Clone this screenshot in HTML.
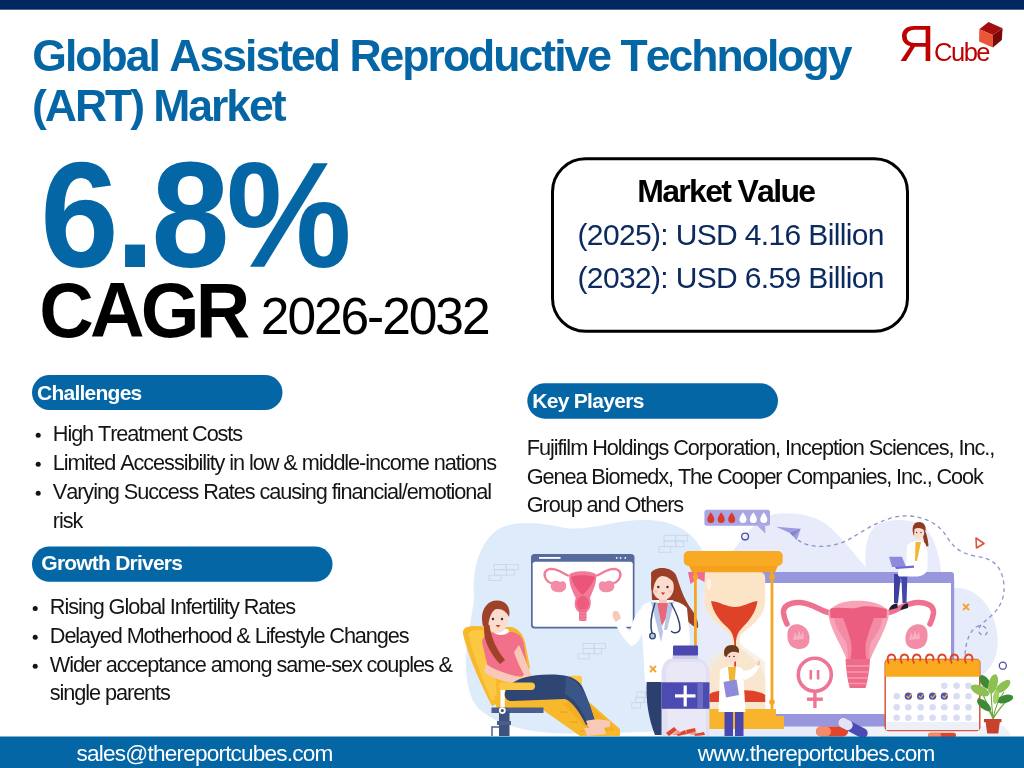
<!DOCTYPE html>
<html><head><meta charset="utf-8"><title>Global Assisted Reproductive Technology (ART) Market</title>
<style>html,body{margin:0;padding:0;background:#fff;} body{width:1024px;height:768px;overflow:hidden;} svg{display:block;}</style>
</head><body>
<svg width="1024" height="768" viewBox="0 0 1024 768">
<rect width="1024" height="768" fill="#fff"/>
<g id="illus"><!-- background blobs -->
<path d="M474,600 C472,570 478,545 497,530 C512,520 540,522 565,528 C590,531 612,521 640,520 C668,519 692,528 703,552 L714,610 L714,729 C680,731 620,733 565,733.5 C525,733 495,724 478,708 C463,692 464,650 470,625 Z" fill="#DDEBFA"/>
<path d="M700,600 C705,575 718,560 732,552 C745,535 757,518 775,514 C792,512 812,514 826,524 C842,537 855,555 870,572 L870,736 L700,736 Z" fill="#E8ECFA"/>
<path d="M866,572 C864,550 866,530 880,523 C895,518 915,519 926,528 C934,538 940,556 941,572 Z" fill="#E8ECFA"/>
<path d="M951,588 C975,585 994,605 997.5,636 C999,652 994,664 986,672 C976,682 962,690 951,692 Z" fill="#E6ECFA"/>
<path d="M860,726 L1003,726 C1008,729 1010,733 1010,736 L860,736 Z" fill="#EEF0FA"/>
<!-- brick marks -->
<g stroke="#C8D5EA" stroke-width="0.8" fill="none">
<rect x="494.0" y="564.5" width="12.2" height="5.3"/><rect x="506.1" y="564.5" width="12.2" height="5.3"/><rect x="494.4" y="569.8" width="12.2" height="5.3"/><rect x="506.5" y="569.8" width="8.1" height="5.3"/><rect x="489.0" y="575.2" width="12.2" height="5.3"/>
<rect x="664.0" y="535.3" width="11.7" height="5.7"/><rect x="675.7" y="535.3" width="11.7" height="5.7"/><rect x="664.2" y="541.0" width="11.7" height="5.7"/><rect x="675.9" y="541.0" width="7.8" height="5.7"/><rect x="659.0" y="546.6" width="11.7" height="5.7"/>
<rect x="583.0" y="643.4" width="11.2" height="5.2"/><rect x="594.2" y="643.4" width="11.2" height="5.2"/><rect x="583.0" y="648.6" width="11.2" height="5.2"/><rect x="594.2" y="648.6" width="7.5" height="5.2"/><rect x="578.0" y="653.7" width="11.2" height="5.2"/>
<rect x="636.8" y="692.0" width="8.6" height="5.3"/><rect x="645.3" y="692.0" width="8.6" height="5.3"/><rect x="635.6" y="697.3" width="8.6" height="5.3"/><rect x="644.1" y="697.3" width="5.7" height="5.3"/><rect x="631.8" y="702.7" width="8.6" height="5.3"/>
</g>
<!-- dashed path -->
<path d="M798,540 C808,548 830,549 848,540 C862,532 875,522 895,517 C915,513 935,520 945,534 C952,545 958,553 975,556 C992,558 1002,565 1004,585 C1005,605 994,614 984,622 C976,628 978,636 985,635 C990,633 986,624 978,626 C970,630 966,640 965,655" fill="none" stroke="#8E92CF" stroke-width="1.3" stroke-dasharray="4,3.5"/>
<!-- small monitor -->
<rect x="531" y="554" width="103.5" height="74.5" rx="3.5" fill="#566A9E"/>
<rect x="532.7" y="561.8" width="100.1" height="65" rx="2.5" fill="#fff"/>
<rect x="539" y="557" width="21.5" height="1.8" fill="#fff"/>
<circle cx="616.7" cy="557.9" r="0.9" fill="#fff"/><circle cx="620.6" cy="557.9" r="0.9" fill="#fff"/><circle cx="625.3" cy="557.9" r="0.9" fill="#fff"/>
<!-- small uterus -->
<g>
<path d="M568,575.5 C562,573 558,568.8 551,568.8 C546,569 543.5,573 545,577 C546,580 548,582 551,583" fill="none" stroke="#F07C95" stroke-width="2.3" stroke-linecap="round"/>
<path d="M597,575.5 C603,573 607,568.8 614,568.8 C619,569 621.5,573 620,577 C619,580 617,582 614,583" fill="none" stroke="#F07C95" stroke-width="2.3" stroke-linecap="round"/>
<path d="M551,584 C552,580 557,580 560,582 C564,580 567,583 566,587 C566,591 561,593 557,592 C552,592 550,588 551,584 Z" fill="#F38CA6"/>
<path d="M614,584 C613,580 608,580 605,582 C601,580 598,583 599,587 C599,591 604,593 608,592 C613,592 615,588 614,584 Z" fill="#F38CA6"/>
<path d="M569.3,575 C572,570 593,570 596.2,575 C597,584 592,592 590,598 C592,604 590,610 586.5,612 L579,612 C575,610 573.5,604 575.8,598 C573,592 568.5,584 569.3,575 Z" fill="#F27A97"/>
<path d="M571,577 C575,574.5 590,574.5 595,577 C592,585 587,591 582.5,595 C578,591 573,585 571,577 Z" fill="#EA5679"/>
<ellipse cx="582.8" cy="603.5" rx="6.2" ry="7.5" fill="#EE5B7F"/>
<rect x="579" y="609" width="7.5" height="12" rx="1.5" fill="#EE6D8B"/>
<path d="M579.5,613 h6.5 M579.5,616 h6.5 M579.5,619 h6.5" stroke="#F59AB0" stroke-width="0.8"/>
</g>
<!-- big monitor -->
<rect x="752" y="572" width="202" height="11.2" rx="3" fill="#9896DC"/>
<rect x="951" y="580" width="3.2" height="138" fill="#9896DC"/>
<rect x="740" y="583" width="211" height="131" fill="#fff"/>
<rect x="760" y="714" width="194" height="12.5" rx="2" fill="#9896DC"/>
<!-- big uterus -->
<g>
<path d="M831,613 C822,612 812,603 800,602.5 C790,602 783,606 783.5,613 C784,618 785.5,621 787,624" fill="none" stroke="#EF7190" stroke-width="5.5" stroke-linecap="round"/>
<path d="M886,613 C895,612 905,603 917,602.5 C927,602 934,606 933.5,613 C933,618 931.5,621 930,624" fill="none" stroke="#EF7190" stroke-width="5.5" stroke-linecap="round"/>
<path d="M787.5,633 C788,625 796,622 803,626 C810,630 811,640 808,645 C804,651 793,650 789.5,644 C787.5,641 787.3,637 787.5,633 Z" fill="#F38CA6"/>
<path d="M927.5,633 C927,625 919,622 912,626 C905,630 904,640 907,645 C911,651 922,650 925.5,644 C927.5,641 927.7,637 927.5,633 Z" fill="#F38CA6"/>
<path d="M793,640 l2,-8 l2,5 l2,-7 l2,6 l2,-5 l1,8 Z M909,640 l2,-8 l2,5 l2,-7 l2,6 l2,-5 l1,8 Z" fill="#F7B3C4" opacity="0.9"/>
<path d="M828,612 C836,602 848,600.8 858,600.8 C870,600.8 882,603 889.5,612 C888,622 884,630 881,637 C877,645 873,652 870.5,659 L846.4,659 C844,652 840,645 836,637 C833,630 829,622 828,612 Z" fill="#F7A4B8"/>
<path d="M834,614 C834,625 840,634 846,642 C848,648 848,654 847.5,659 L869.5,659 C869,654 869,648 871,642 C877,634 883,625 883,614 Z" fill="#F38BA5"/>
<path d="M830,609 C840,606 848,610 858,607.5 C868,605 876,607 887,609 L886.5,618 L874,618 C871,626 868,634 866,642 C865,648 865.5,654 866.5,659 L850.5,659 C851.5,654 852,648 851,642 C849,634 846,626 843,618 L830.5,618 Z" fill="#EC5E80"/>
<path d="M845.5,659 L870,659 C869.5,670 868,680 865.5,688 L849.7,688 C847.5,680 846,670 845.5,659 Z" fill="#EE6C8A"/>
<path d="M846.5,666 h23 M847.3,672 h21.5 M848,678 h20 M849,683.5 h17.5" stroke="#F59AB0" stroke-width="1.6"/>
</g>
<!-- female symbol -->
<circle cx="814.8" cy="674.7" r="16.5" fill="#fff" stroke="#EE7596" stroke-width="3.6"/>
<rect x="809.5" y="670" width="2.6" height="9.5" fill="#EE7596"/><rect x="816.8" y="670" width="2.6" height="9.5" fill="#EE7596"/>
<rect x="813.2" y="692" width="3.4" height="16" fill="#EE7596"/><rect x="807" y="697.5" width="15.8" height="3.4" fill="#EE7596"/>
<!-- calendar -->
<g>
<rect x="885.2" y="659.6" width="94.6" height="71" rx="3.5" fill="#fff" stroke="#D9553D" stroke-width="1.5"/>
<path d="M885.2,676.7 L885.2,663 Q885.2,659.6 888.7,659.6 L976.3,659.6 Q979.8,659.6 979.8,663 L979.8,676.7 Z" fill="#FBA91F"/>
<rect x="886" y="722" width="93" height="8" fill="#EEF0F8"/>
<g fill="none" stroke="#D9462B" stroke-width="1.8">
<path d="M889,663.5 C886,659 888,654.5 891.6,654.5 C895,654.5 896,658 894.5,661"/>
<path d="M902,663.5 C899,659 901,654.5 904.6,654.5 C908,654.5 909,658 907.5,661"/>
<path d="M914.3,663.5 C911.3,659 913.3,654.5 916.9,654.5 C920.3,654.5 921.3,658 919.8,661"/>
<path d="M927.3,663.5 C924.3,659 926.3,654.5 929.9,654.5 C933.3,654.5 934.3,658 932.8,661"/>
<path d="M939.6,663.5 C936.6,659 938.6,654.5 942.2,654.5 C945.6,654.5 946.6,658 945.1,661"/>
<path d="M951.9,663.5 C948.9,659 950.9,654.5 954.5,654.5 C957.9,654.5 958.9,658 957.4,661"/>
<path d="M966.3,663.5 C963.3,659 965.3,654.5 968.9,654.5 C972.3,654.5 973.3,658 971.8,661"/>
</g>
<g fill="#D8DDF3">
<circle cx="944.3" cy="685.8" r="3.3"/><circle cx="956.6" cy="685.8" r="3.3"/><circle cx="968.5" cy="685.8" r="3.3"/>
<circle cx="896.7" cy="696.2" r="3.3"/><circle cx="956.6" cy="696.2" r="3.3"/><circle cx="968.5" cy="696.2" r="3.3"/>
<circle cx="896.7" cy="707.2" r="3.3"/><circle cx="908.3" cy="707.2" r="3.3"/><circle cx="920.6" cy="707.2" r="3.3"/><circle cx="932.6" cy="707.2" r="3.3"/><circle cx="944.3" cy="707.2" r="3.3"/><circle cx="956.6" cy="707.2" r="3.3"/><circle cx="968.5" cy="707.2" r="3.3"/>
<circle cx="896.7" cy="717.7" r="3.3"/><circle cx="908.3" cy="717.7" r="3.3"/><circle cx="920.6" cy="717.7" r="3.3"/><circle cx="932.6" cy="717.7" r="3.3"/><circle cx="944.3" cy="717.7" r="3.3"/><circle cx="956.6" cy="717.7" r="3.3"/><circle cx="968.5" cy="717.7" r="3.3"/>
</g>
<g fill="#4D55B5">
<circle cx="908.3" cy="696.2" r="3.6"/><circle cx="920.6" cy="696.2" r="3.6"/><circle cx="932.6" cy="696.2" r="3.6"/><circle cx="944.3" cy="696.2" r="3.6"/>
</g>
<g fill="none" stroke="#F5B33A" stroke-width="1.2">
<path d="M906.5,696 l1.8,1.8 l3.5,-4.5 M918.8,696 l1.8,1.8 l3.5,-4.5 M930.8,696 l1.8,1.8 l3.5,-4.5 M942.5,696 l1.8,1.8 l3.5,-4.5"/>
</g>
</g>
<!-- plant -->
<g>
<path d="M993,719 C992,708 991,698 991,686 M993,719 C995,708 998,700 1004,692 M993,719 C990,710 985,704 978,698 M993,719 C992,712 987,705 982,692 M993,719 C997,712 1002,705 1008,700" fill="none" stroke="#6FA83E" stroke-width="1.1"/>
<ellipse cx="985" cy="682" rx="8" ry="4.2" transform="rotate(55 985 682)" fill="#3D8B37"/>
<ellipse cx="980" cy="690.5" rx="10" ry="4.8" transform="rotate(25 980 690.5)" fill="#8CC152"/>
<ellipse cx="993" cy="684" rx="10" ry="4.5" transform="rotate(-75 993 684)" fill="#8CC152"/>
<ellipse cx="1003" cy="686.5" rx="9" ry="4.2" transform="rotate(-40 1003 686.5)" fill="#8CC152"/>
<ellipse cx="1005" cy="699" rx="8.5" ry="4" transform="rotate(-15 1005 699)" fill="#3D8B37"/>
<ellipse cx="984" cy="705" rx="8.5" ry="4" transform="rotate(40 984 705)" fill="#3D8B37"/>
<ellipse cx="996" cy="697" rx="7" ry="3" transform="rotate(-80 996 697)" fill="#A5D064"/>
<path d="M983.9,719 L1001.5,719 L1001.5,722.3 L999.8,722.3 L998.3,733.4 L987.2,733.4 L985.6,722.3 L983.9,722.3 Z" fill="#C8412C"/>
</g>
<!-- speech bubble -->
<g>
<rect x="704.4" y="509.8" width="65.6" height="15.9" rx="2.5" fill="#A9A6E4"/>
<path d="M757,525.5 L765.2,525.5 L765.4,533.5 Z" fill="#A9A6E4"/>
<g fill="#D93A2B">
<path d="M710.8,512.3 C708,516 707.3,518 707.3,519.5 A3.5,3.5 0 0 0 714.3,519.5 C714.3,518 713.6,516 710.8,512.3 Z"/>
<path d="M721.2,512.3 C718.4,516 717.7,518 717.7,519.5 A3.5,3.5 0 0 0 724.7,519.5 C724.7,518 724,516 721.2,512.3 Z"/>
<path d="M731.7,512.3 C728.9,516 728.2,518 728.2,519.5 A3.5,3.5 0 0 0 735.2,519.5 C735.2,518 734.5,516 731.7,512.3 Z"/>
</g>
<g fill="#fff">
<path d="M743,512.3 C740.2,516 739.5,518 739.5,519.5 A3.5,3.5 0 0 0 746.5,519.5 C746.5,518 745.8,516 743,512.3 Z"/>
<path d="M753.3,512.3 C750.5,516 749.8,518 749.8,519.5 A3.5,3.5 0 0 0 756.8,519.5 C756.8,518 756.1,516 753.3,512.3 Z"/>
<path d="M763.8,512.3 C761,516 760.3,518 760.3,519.5 A3.5,3.5 0 0 0 767.3,519.5 C767.3,518 766.6,516 763.8,512.3 Z"/>
</g>
</g>
<circle cx="745.1" cy="536.6" r="3.4" fill="none" stroke="#4B4DA8" stroke-width="1.3"/>
<circle cx="1002.8" cy="665.7" r="3.5" fill="none" stroke="#4B4DA8" stroke-width="1.3"/>
<!-- paper plane -->
<path d="M776.1,526.7 L800.7,528.7 L796.6,540.3 L790,533 Z" fill="#9E9BE0"/>
<path d="M790,533 L800.7,528.7 L793,536 Z" fill="#8481CF"/>
<!-- red triangle -->
<path d="M976,538 L984,543.5 L976.5,548 Z" fill="none" stroke="#E2523D" stroke-width="1.6" stroke-linejoin="round"/>
<!-- chair -->
<g>
<path d="M463.5,636 C461,629 466,626 474,626 L511,627 C518,628 523,634 525,642 L530,668 L504,700 L492,706 C484,690 470,662 463.5,636 Z" fill="#F7B92B"/>
<path d="M469,637 C467,632 471,630 478,630 L490,631 C494,645 495,670 497,700 L491,700 C484,682 474,658 469,637 Z" fill="#FBC844"/>
<path d="M494,696 L555,697 L560,700 L562,709 L497,710 Z" fill="#F7B92B"/>
<path d="M556,699 L582,696 L620,729 L620,736 L580,736 L543,710 Z" fill="#F7B92B"/>
<path d="M562,703 L586,700 L615,730 L592,734 Z" fill="#F3AE22"/>
<path d="M560,712 l8,0 M570,722 l8,0 M580,731 l8,0" stroke="#E89F1A" stroke-width="1"/>
<rect x="491.5" y="707.5" width="52" height="5.5" fill="#4A5E8C"/>
<rect x="499" y="711" width="10.5" height="25" fill="#3F527E"/>
<rect x="497" y="721" width="14" height="4" fill="#4A5E8C"/>
<path d="M499,727 L492,727 L492,736" fill="none" stroke="#4A5E8C" stroke-width="1.5"/>
<circle cx="502.3" cy="710.6" r="3.4" fill="#fff"/><circle cx="502.3" cy="710.6" r="1.6" fill="#3F527E"/>
<rect x="500.5" y="689" width="4.3" height="18" fill="#fff"/>
</g>
<!-- patient -->
<g>
<path d="M482,642 C483,635 489,632 497,632 L512,632 C519,633 523,638 524,645 L528,672 L522,676 L496,677 L488,668 Z" fill="#F2708A"/>
<path d="M493,632 C497,636 505,636 509,632 L508,629 L494,629 Z" fill="#fff"/>
<path d="M519,645 C524,655 528,668 532,676 L536,682 L530,684 C524,676 518,664 514,652 Z" fill="#F9C9B7"/>
<path d="M486,664 C496,671 514,677 532,679 L535,685 C515,686 495,680 484,672 Z" fill="#F9C9B7"/>
<rect x="568" y="675.7" width="14" height="9.2" rx="3" fill="#FBC844"/>
<path d="M506,690 C512,678 535,673 560,675 C572,676 578,680 582,686 C586,694 591,708 595,721 L586,725 C580,713 572,701 565,699 L512,701 C505,701 503,695 506,690 Z" fill="#2F4675"/>
<path d="M566,676 C576,680 582,688 587,698 C591,708 593,716 595,721 L588,724 C583,712 576,700 565,694 Z" fill="#3A5688"/>
<path d="M586,721 C592,719 602,719 610,721 L610,727 L590,730 Z M584,728 L604,727 L606,734 L587,736 Z" fill="#F9C9B7"/>
<rect x="499" y="682.4" width="36" height="7.5" rx="3.7" fill="#FBC844"/>
<path d="M486,620 C486,609 490,603.5 497.5,603.5 C505,603.5 508.5,610 508,619 C507.5,628 503,633 497,633 C490.5,633 486,628 486,620 Z" fill="#FCDCCF"/>
<path d="M483,626 C479,611 487,600 497.5,600.5 C506,601 511,607 509,617 C506,611 501,608 495,609.5 C491,612 489,619 488,627 Z" fill="#A0412A"/>
<path d="M484.5,623 C482,638 489,652 500,664 L505,660 C497,650 491,638 489.5,625 Z" fill="#A0412A"/>
<circle cx="493" cy="619" r="1.2" fill="#333"/><circle cx="502" cy="619" r="1.2" fill="#333"/>
<path d="M495.5,625 h5 l-2.5,2.5 Z" fill="#C0392B"/>
</g>
<!-- female doctor -->
<g>
<path d="M647,679 C645,700 649,720 655,735 L664,735 L664,679 Z" fill="#2C4070"/>
<path d="M651,573 C655,566 671,566 676,575 C680,586 684,600 692,610 C696,616 699,622 698,628 C692,627 686,620 681,612 L673,600 L652,600 Z" fill="#9C3F26"/>
<path d="M642,606 C648,601 656,600 663,600 C672,600 682,602 687,608 L690,640 L684,680 L666,682 L645,682 C644,660 642,635 641,615 Z" fill="#fff"/>
<path d="M643,607 C636,612 632,622 630,632 C627,628 622,622 619,618 L614,621 C618,630 624,640 631,646 C637,646 642,636 645,625 Z" fill="#fff"/>
<path d="M612.5,614 C613,610 617,610 619,613 L621,618 L616,622 C614,620 612.5,617 612.5,614 Z" fill="#F9C9B7"/>
<path d="M659,598 L667,598 L667,605 L659,605 Z" fill="#F9C9B7"/>
<path d="M656,603 L669,603 L666,618 L662,626 L659,618 Z" fill="#E8677C"/>
<path d="M651,602 L657,602 L663,632 L661,642 Z M674,602 L668,602 L664,630 L667,630 Z" fill="#B9C7E7"/>
<path d="M655,603 C651,615 650,626 652,634 M671,603 C676,612 680,620 680,628 C680,633 674,634 671,631" fill="none" stroke="#2E4472" stroke-width="1.5"/>
<circle cx="652.5" cy="636" r="2.8" fill="#B9C7E7" stroke="#2E4472" stroke-width="1.3"/>
<ellipse cx="663" cy="587" rx="10.8" ry="13" fill="#FCDCCF"/>
<path d="M651.5,590 C649,575 657,569 664,569 C672,569 677,575 675.5,586 C672,579 667,576 662,576 C657,577 654,582 653,592 Z" fill="#9C3F26"/>
<circle cx="658.3" cy="587" r="1.2" fill="#3a2a2a"/><circle cx="667.5" cy="587" r="1.2" fill="#3a2a2a"/>
<path d="M660.8,592.5 h4.4 l-2.2,2.5 Z" fill="#C0392B"/>
<ellipse cx="656" cy="591.5" rx="2" ry="1.2" fill="#F7B8AE" opacity="0.7"/><ellipse cx="670" cy="591.5" rx="2" ry="1.2" fill="#F7B8AE" opacity="0.7"/>
</g>
<!-- orange x marks -->
<path d="M963,604 l6,6 M969,604 l-6,6" stroke="#F3A531" stroke-width="1.8"/>
<path d="M650,666 l6,6 M656,666 l-6,6" stroke="#F3A531" stroke-width="1.8"/>
<!-- hourglass -->
<g>
<path d="M710,571.8 L759,571.8 C763,571.8 765.2,574 765.2,579 L765.2,600 C765.2,612 758,620 750,627 C742,633 738,637 737.8,641 C738,645 742,650 750,656 C759,663 765,670 765.2,682 L765.2,709.5 L708.5,709.5 L708.5,682 C709,670 714,663 722,656 C729,650 732,645 732.2,641 C732,637 729,633 721,627 C712,620 704.6,612 704.6,600 L704.6,579 C704.6,574 706,571.8 710,571.8 Z" fill="#FCE4C6"/>
<path d="M708.5,660 C712,656 722,650 728,645 L732,641 L738,641 L742,645 C748,650 758,656 765.2,662 L765.2,709.5 L708.5,709.5 Z" fill="#F7E7D5" opacity="0.6"/>
<path d="M711,601 C720,602 727,607 735,607 C743,607 750,602 757.5,601 C756,613 748,622 742,628 C738,632 736.5,636 736,641 L734,641 C733.5,636 732,632 728,628 C721,622 713,613 711,601 Z" fill="#DE4229"/>
<rect x="734.2" y="640" width="1.8" height="52" fill="#DE4229"/>
<path d="M708.5,702 L708.5,695 C712,691 722,690 736,690 C750,690 760,691 765.2,695 L765.2,702 Z" fill="#DE4229"/>
<path d="M688,572 L705,572 L704.5,582 L698,578.5 L690.5,584 Z" fill="#F06A93"/>
<ellipse cx="709" cy="584" rx="2.3" ry="6" fill="#FFF3E6" opacity="0.9"/>
<rect x="694" y="571" width="2.8" height="140" fill="#F5A623"/>
<rect x="770.6" y="571" width="2.8" height="140" fill="#F5A623"/>
<circle cx="695.4" cy="577" r="2.8" fill="#F5A623"/><circle cx="772" cy="577" r="2.8" fill="#F5A623"/>
<circle cx="695.4" cy="702" r="2.8" fill="#F5A623"/><circle cx="772" cy="702" r="2.8" fill="#F5A623"/>
<path d="M688,564 L779,564 L775,572.2 L692,572.2 Z" fill="#F6A11E"/>
<rect x="683.7" y="551" width="99" height="15" rx="5" fill="#F9AA24"/>
<path d="M700,709 L776,709 L776,716 L784,716 L784,729 L690,729 L690,716 L700,716 Z" fill="#F7B42C"/>
</g>
<!-- bottle -->
<g>
<path d="M669,659 L701,659 C706,662 709.5,667 709.5,674 L709.5,736 L661.5,736 L661.5,674 C661.5,667 664,662 669,659 Z" fill="#E1DFF2"/>
<path d="M666,672 C666,665 670,662 675,662 L698,662 C703,662 706,666 706,672 L706,736 L668,736 Z" fill="#EAE8F7"/>
<rect x="672.5" y="655" width="25.5" height="4" fill="#CFCCEA"/>
<rect x="673" y="645.5" width="25" height="10" rx="1" fill="#4A47AE"/>
<rect x="661.5" y="682.3" width="48" height="26.5" fill="#4C4BB2"/>
<rect x="697.4" y="682.3" width="5.6" height="26.5" fill="#6E6DC4"/>
<rect x="683.6" y="685.5" width="3.2" height="21" fill="#fff"/>
<rect x="675" y="694.3" width="20.5" height="3.2" fill="#fff"/>
<path d="M666,733 l8,-6 l3,3 l-8,6 Z M676,734 l9,-4 l2,4 l-9,2 Z M686,730 l9,-2 l1,4 l-9,2 Z M694,734 l10,-2 l1,3 l-10,1 Z" fill="#E0452E"/>
<path d="M672,735 l6,-5 l3,3 l-6,2 Z M690,733 l6,-2 l1,3 l-6,1 Z" fill="#F59584"/>
</g>
<!-- male doctor -->
<g>
<rect x="724.5" y="710" width="8.5" height="26" fill="#4A47B0"/><rect x="735" y="710" width="8.5" height="26" fill="#4A47B0"/>
<path d="M720,670 C723,666 739,665 743,669 L745.5,712 L718.5,712 Z" fill="#fff"/>
<path d="M741,670 C746,672 752,670 757,664 L760,666 C756,674 750,679 744,680 Z" fill="#fff"/>
<path d="M757,666 C757,662 758,660 759.5,660 L760.5,665 Z" fill="#F9C9B7"/>
<path d="M728,667 L736,667 L734,688 L730,688 Z" fill="#F2B635"/>
<path d="M723.5,682 L736.5,679.5 L739,695 L726,697.5 Z" fill="#8E8BDB"/>
<circle cx="731.6" cy="656" r="6.8" fill="#FCDCCF"/>
<path d="M724.5,656 C722.5,648 727,645 732,645 C737,645 740,648 738.8,653 C734,651 729,651 726.5,657 Z" fill="#6B3A1E"/>
<circle cx="729.4" cy="656.5" r="0.8" fill="#333"/><circle cx="734" cy="656.5" r="0.8" fill="#333"/>
</g>
<!-- sitting woman -->
<g>
<path d="M899,572 L907.5,572 L906.5,603 L902.5,603 L901.5,580 Z" fill="#4546AA"/>
<path d="M894,574 L901,574 L898,603 L894,603 Z" fill="#3E3FA0"/>
<path d="M889,610 C890,606 893,603.5 897.5,603.5 L897.5,608 Z M900.5,610 C901.5,606 904,603.5 908,603.5 L908,608 Z" fill="#1D1D2B"/>
<path d="M922,527 C926,530 928,538 928.5,546 L925,547 C924,541 923,535 921,531 Z" fill="#8E3B22"/>
<path d="M907,546 C910,541 920,540 925,543 C928,548 928,560 927.5,568 C927,574 922,576.5 915,576.5 L899,576.5 C896,573 899,568 906,566 Z" fill="#fff"/>
<path d="M915.5,542 L921,542 L917,561 L915,561 Z" fill="#F2B635"/>
<path d="M889,556.7 L902,556.7 L906,567 L892,567 Z" fill="#8D8BDC"/>
<path d="M895,567 L914,565.5 L914,567.8 L896,569 Z" fill="#6F6CC9"/>
<ellipse cx="918.6" cy="532.8" rx="5.6" ry="6.8" fill="#FCDCCF"/>
<path d="M913,533 C911.5,525 915,522 919,522 C924,522 926.5,526 925.5,531 C922,528 918,527 914.5,529 L914,536 Z" fill="#8E3B22"/>
<circle cx="916.6" cy="532.5" r="0.7" fill="#333"/><circle cx="921" cy="532.5" r="0.7" fill="#333"/>
</g>
<!-- pills floor -->
<rect x="816" y="726.5" width="32" height="10" rx="5" fill="#E0452E"/>
<rect x="816" y="726.5" width="15" height="10" rx="5" fill="#F28A6E"/>
<g transform="rotate(28 853 728)"><rect x="837" y="723" width="32" height="10" rx="5" fill="#4C4BB2"/><rect x="837" y="723" width="15" height="10" rx="5" fill="#E4E2F5"/></g>
<rect x="928" y="732.7" width="28" height="5" rx="2.5" fill="#E0452E"/>
<rect x="928" y="732.7" width="13" height="5" rx="2.5" fill="#F28A6E"/>
</g>
<rect x="0" y="0" width="1024" height="9.7" fill="#00265E"/>
<rect x="0" y="736.5" width="1024" height="31.5" fill="#0566A5"/>
<rect x="552.5" y="158.8" width="355" height="172.5" rx="33" ry="33" fill="#fff" stroke="#000" stroke-width="3"/>
<rect x="32" y="375" width="250.5" height="35" rx="17.5" fill="#0566A5"/>
<rect x="32" y="546.5" width="300.5" height="35.3" rx="17.6" fill="#0566A5"/>
<rect x="527.3" y="383.2" width="250.7" height="35.5" rx="17.7" fill="#0566A5"/>
<polygon points="988.5,22 1002.6,28.3 992.9,35 979.3,29.3" fill="#A30F0F"/>
<polygon points="979.3,29.3 992.9,35 992.9,47.6 979.1,41.6" fill="#EA5535"/>
<polygon points="992.9,35 1002.6,28.3 1001.8,40 992.9,47.6" fill="#7A0808"/>
<circle cx="38.2" cy="435.2" r="2.5" fill="#141414"/><circle cx="38.2" cy="464.2" r="2.5" fill="#141414"/><circle cx="38.2" cy="493.2" r="2.5" fill="#141414"/><circle cx="35.2" cy="608.5" r="2.5" fill="#141414"/><circle cx="35.2" cy="637.3" r="2.5" fill="#141414"/><circle cx="35.2" cy="666.2" r="2.5" fill="#141414"/>
<g font-family="'Liberation Sans', Arial, sans-serif" style="font-kerning:none">
<text x="32.27" y="70.70" font-size="44.5" font-weight="bold" letter-spacing="-1.972" fill="#0566A5">Global Assisted Reproductive Technology</text>
<text x="32.08" y="120.60" font-size="44.5" font-weight="bold" letter-spacing="-2.041" fill="#0566A5">(ART) Market</text>
<text transform="translate(40.34,266.60) scale(0.94,1)" font-size="150" font-weight="bold" letter-spacing="-3.546" fill="#0566A5">6.8%</text>
<text transform="translate(39.30,337.00) scale(0.968,1)" font-size="78" font-weight="bold" letter-spacing="-3.879" fill="#000">CAGR</text>
<text x="260.81" y="334.20" font-size="51.5" font-weight="normal" letter-spacing="-2.063" fill="#000">2026-2032</text>
<text x="637.16" y="201.90" font-size="32" font-weight="bold" letter-spacing="-1.681" fill="#000">Market Value</text>
<text x="577.54" y="244.50" font-size="30" font-weight="normal" letter-spacing="-0.649" fill="#0B2A60">(2025): USD 4.16 Billion</text>
<text x="577.54" y="288.00" font-size="30" font-weight="normal" letter-spacing="-0.649" fill="#0B2A60">(2032): USD 6.59 Billion</text>
<text x="37.04" y="399.50" font-size="21" font-weight="bold" letter-spacing="-0.757" fill="#fff">Challenges</text>
<text x="41.34" y="570.00" font-size="21" font-weight="bold" letter-spacing="-0.783" fill="#fff">Growth Drivers</text>
<text x="532.20" y="407.80" font-size="21" font-weight="bold" letter-spacing="-0.692" fill="#fff">Key Players</text>
<text x="52.82" y="440.80" font-size="21.7" font-weight="normal" letter-spacing="-1.083" fill="#141414">High Treatment Costs</text>
<text x="52.82" y="469.60" font-size="21.7" font-weight="normal" letter-spacing="-1.071" fill="#141414">Limited Accessibility in low &amp; middle-income nations</text>
<text x="52.82" y="498.70" font-size="21.7" font-weight="normal" letter-spacing="-1.069" fill="#141414">Varying Success Rates causing financial/emotional</text>
<text x="52.82" y="527.60" font-size="21.7" font-weight="normal" letter-spacing="-1.071" fill="#141414">risk</text>
<text x="49.82" y="614.20" font-size="21.7" font-weight="normal" letter-spacing="-1.071" fill="#141414">Rising Global Infertility Rates</text>
<text x="49.82" y="642.70" font-size="21.7" font-weight="normal" letter-spacing="-1.095" fill="#141414">Delayed Motherhood &amp; Lifestyle Changes</text>
<text x="49.82" y="671.60" font-size="21.7" font-weight="normal" letter-spacing="-1.101" fill="#141414">Wider acceptance among same-sex couples &amp;</text>
<text x="49.82" y="700.20" font-size="21.7" font-weight="normal" letter-spacing="-1.072" fill="#141414">single parents</text>
<text x="526.82" y="455.00" font-size="21.7" font-weight="normal" letter-spacing="-1.039" fill="#141414">Fujifilm Holdings Corporation, Inception Sciences, Inc.,</text>
<text x="526.82" y="483.60" font-size="21.7" font-weight="normal" letter-spacing="-1.097" fill="#141414">Genea Biomedx, The Cooper Companies, Inc., Cook</text>
<text x="526.82" y="512.30" font-size="21.7" font-weight="normal" letter-spacing="-1.082" fill="#141414">Group and Others</text>
<text x="76.57" y="761.00" font-size="22.6" font-weight="normal" letter-spacing="-0.805" fill="#fff">sales@thereportcubes.com</text>
<text x="697.83" y="760.60" font-size="22.6" font-weight="normal" letter-spacing="-0.834" fill="#fff">www.thereportcubes.com</text>
<text x="898.16" y="60.90" font-size="50" font-weight="normal" letter-spacing="0.000" fill="#C00000">Я</text>
<text x="934.11" y="60.90" font-size="25.5" font-weight="normal" letter-spacing="-1.511" fill="#C00000">Cube</text>
</g>
</svg>
</body></html>
